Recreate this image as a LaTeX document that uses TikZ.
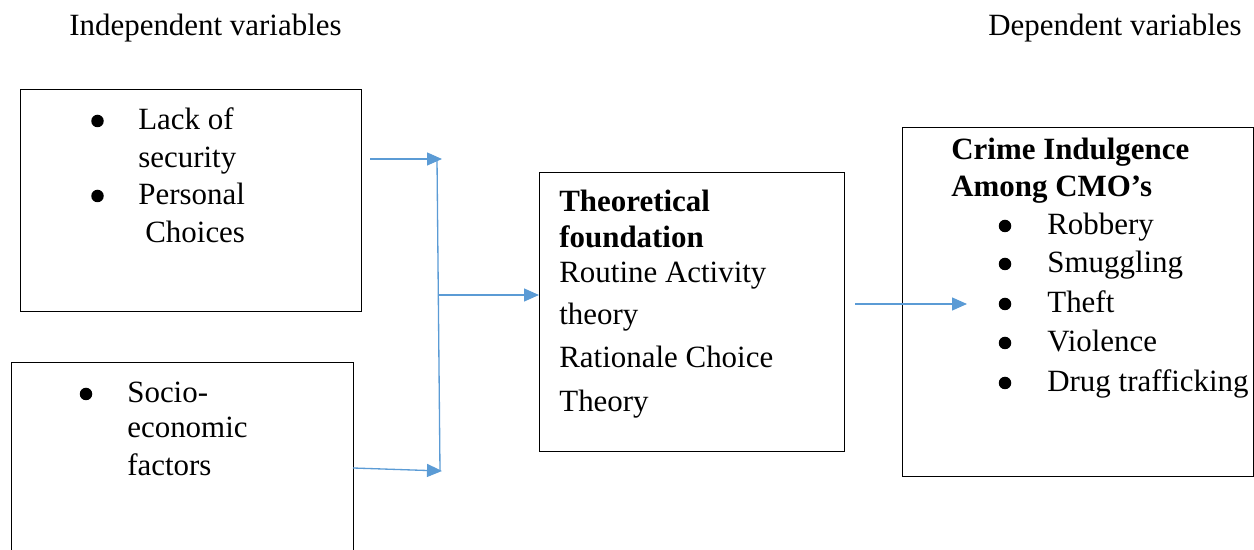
\documentclass[tikz,border=0pt]{standalone}
\usepackage{fontspec}
\setmainfont{Liberation Serif}
\usetikzlibrary{arrows.meta}
\definecolor{arrowblue}{HTML}{5B9BD5}
\tikzset{
  box/.style={draw=black,line width=0.8pt,rectangle,anchor=north west,inner sep=0pt},
  txt/.style={anchor=base west,inner sep=0pt,font=\fontsize{17.6}{21}\selectfont},
  btxt/.style={txt,font=\fontsize{17.6}{21}\selectfont\bfseries},
  dot/.style={circle,fill=black,inner sep=0pt,minimum size=0.25cm,yshift=0.18cm},
  arr/.style={draw=arrowblue,line width=0.75pt,-{Triangle[length=0.3cm,width=0.26cm]}},
  link/.style={draw=arrowblue,line width=0.75pt}
}
\begin{document}
\begin{tikzpicture}
    \useasboundingbox (0,0) rectangle (25.08,11);
    \clip (0,0) rectangle (25.08,11);
    % headings
    \node[txt] (indep) at (1.38,10.28) {Independent variables};
    \node[txt] (dep) at (19.76,10.28) {Dependent variables};
    % boxes
    \node[box,minimum width=6.82cm,minimum height=4.44cm] (security) at (0.4,9.22) {};
    \node[box,minimum width=6.84cm,minimum height=3.96cm] (socio) at (0.22,3.76) {};
    \node[box,minimum width=6.10cm,minimum height=5.58cm] (theory) at (10.78,7.56) {};
    \node[box,minimum width=7.02cm,minimum height=6.98cm] (crime) at (18.04,8.46) {};
    % independent variables
    \node[dot] (b1) at (1.95,8.4) {};
    \node[txt] (lack) at (2.76,8.4) {Lack of};
    \node[txt] (sec) at (2.76,7.64) {security};
    \node[dot] (b2) at (1.95,6.9) {};
    \node[txt] (pers) at (2.76,6.9) {Personal};
    \node[txt] (choi) at (2.9,6.14) {Choices};
    \node[dot] (b3) at (1.72,2.94) {};
    \node[txt] (soc) at (2.54,2.94) {Socio-};
    \node[txt] (eco) at (2.54,2.24) {economic};
    \node[txt] (fac) at (2.54,1.48) {factors};
    % theoretical foundation
    \node[btxt] (th1) at (11.18,6.76) {Theoretical};
    \node[btxt] (th2) at (11.18,6.04) {foundation};
    \node[txt] (rat1) at (11.18,5.34) {Routine Activity};
    \node[txt] (rat2) at (11.18,4.5) {theory};
    \node[txt] (rct1) at (11.18,3.64) {Rationale Choice};
    \node[txt] (rct2) at (11.18,2.76) {Theory};
    % dependent variables
    \node[btxt] (cr1) at (19.02,7.8) {Crime Indulgence};
    \node[btxt] (cr2) at (19.02,7.06) {Among CMO’s};
    \foreach \y/\w [count=\i] in {6.3/Robbery,5.54/Smuggling,4.74/Theft,3.96/Violence,3.16/Drug trafficking} {
      \node[dot] (d\i) at (20.1,\y) {};
      \node[txt] (item\i) at (20.94,\y) {\w};
    }
    % connectors
    \coordinate (s1) at (7.4,7.82);
    \coordinate (j1) at (8.84,7.82);
    \coordinate (v1) at (8.74,7.82);
    \coordinate (v2) at (8.8,1.58);
    \coordinate (s2) at (7.06,1.64);
    \coordinate (j2) at (8.84,1.58);
    \coordinate (m1) at (8.78,5.1);
    \coordinate (r1) at (17.1,4.92);
    \coordinate (r2) at (19.34,4.92);
    \draw[arr] (s1) -- (j1);
    \draw[link] (v1) -- (v2);
    \draw[arr] (s2) -- (j2);
    \draw[arr] (m1) -- (m1 -| theory.west);
    \draw[arr] (r1) -- (r2);
\end{tikzpicture}
\end{document}
